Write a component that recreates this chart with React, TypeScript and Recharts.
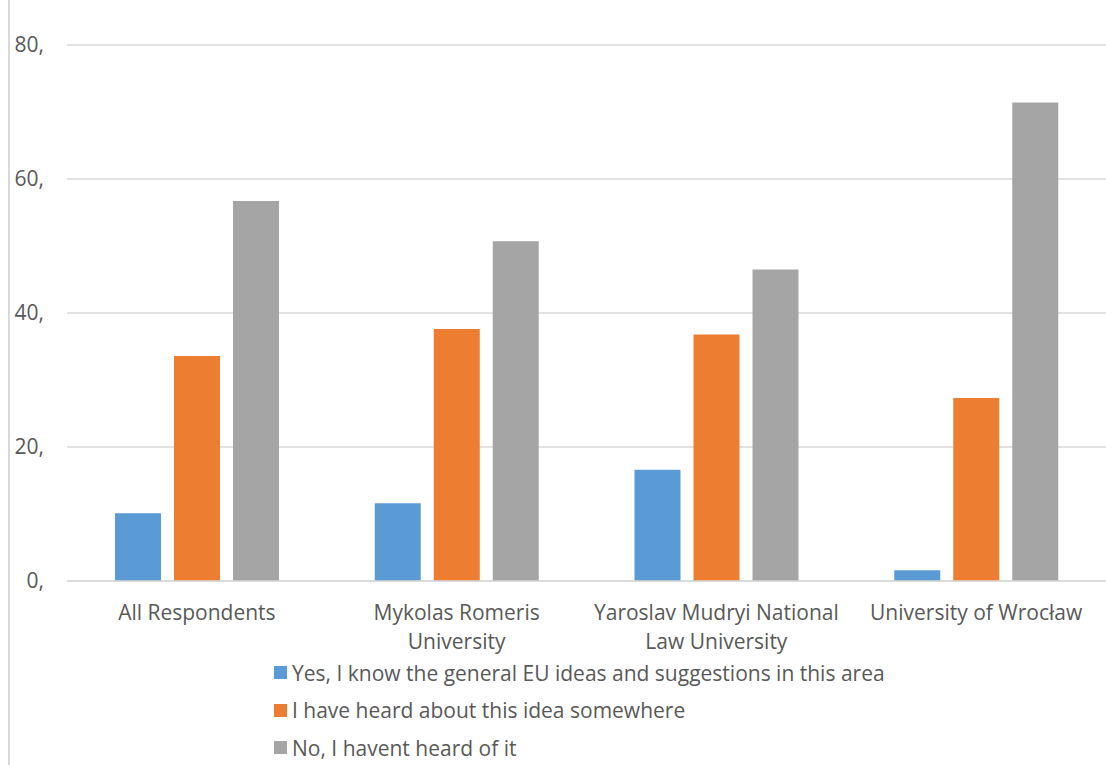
import { BarChart, Bar, XAxis, YAxis, CartesianGrid, Legend } from "recharts";

const categories = [
  "All Respondents",
  "Mykolas Romeris University",
  "Yaroslav Mudryi National Law University",
  "University of Wrocław",
];
const categoryLines = [
  ["All Respondents"],
  ["Mykolas Romeris", "University"],
  ["Yaroslav Mudryi National", "Law University"],
  ["University of Wrocław"],
];
const yesValues = [10.1, 11.6, 16.6, 1.6];
const heardValues = [33.6, 37.6, 36.8, 27.3];
const noValues = [56.7, 50.7, 46.5, 71.4];
const yTicks = [0, 20, 40, 60, 80];

const seriesNames = [
  "Yes, I know the general EU ideas and suggestions in this area",
  "I have heard about this idea somewhere",
  "No, I havent heard of it",
];
const colors = ["#5B9BD5", "#ED7D31", "#A5A5A5"];

const data = categories.map((c, i) => ({
  name: c,
  yes: yesValues[i],
  heard: heardValues[i],
  no: noValues[i],
}));

const FONT = "'Open Sans', Lato, sans-serif";
const TEXT = "#595959";
const FS = 21;

function CategoryTick(props: any) {
  const { x, y, payload, index } = props;
  const lines = categoryLines[index] || [payload.value];
  return (
    <text x={x} y={y + 31} textAnchor="middle" fill={TEXT} fontSize={FS} fontFamily={FONT}>
      {lines.map((l: string, i: number) => (
        <tspan key={i} x={x} dy={i === 0 ? 0 : 29}>
          {l}
        </tspan>
      ))}
    </text>
  );
}

function ValueTick(props: any) {
  const { y, payload } = props;
  return (
    <text x={44} y={y + 7} textAnchor="end" fill={TEXT} fontSize={FS} fontFamily={FONT}>
      {`${payload.value},`}
    </text>
  );
}

function LegendBox() {
  return (
    <div style={{ height: 111, fontFamily: FONT, fontSize: FS, color: TEXT }}>
      {seriesNames.map((n, i) => (
        <div key={n} style={{ display: "flex", alignItems: "center", height: 37.5, whiteSpace: "nowrap" }}>
          <span
            style={{
              width: 13,
              height: 13,
              background: colors[i],
              display: "inline-block",
              marginRight: 5,
            }}
          />
          {n}
        </div>
      ))}
    </div>
  );
}

export default function App() {
  return (
    <div
      style={{
        position: "absolute",
        left: 0,
        top: 0,
        width: 1106,
        height: 765,
        background: "#fff",
      }}
    >
      <div
        style={{
          position: "absolute",
          left: 8,
          top: 0,
          width: 2,
          height: 765,
          background: "#d9d9d9",
        }}
      />
      <BarChart
        width={1106}
        height={765}
        data={data}
        margin={{ top: 45, right: 0, bottom: 0, left: 2 }}
        barGap={13}
        barSize={46}
      >
        <CartesianGrid vertical={false} stroke="#d9d9d9" strokeWidth={1.5} />
        <XAxis
          dataKey="name"
          height={73}
          tickLine={false}
          axisLine={{ stroke: "#d9d9d9", strokeWidth: 1.5 }}
          tick={<CategoryTick />}
          interval={0}
        />
        <YAxis
          width={65}
          domain={[0, 80]}
          ticks={yTicks}
          axisLine={false}
          tickLine={false}
          tick={<ValueTick />}
        />
        <Legend
          verticalAlign="bottom"
          align="left"
          content={<LegendBox />}
          wrapperStyle={{ left: 274, width: 800 }}
        />
        <Bar dataKey="yes" name={seriesNames[0]} fill={colors[0]} isAnimationActive={false} />
        <Bar dataKey="heard" name={seriesNames[1]} fill={colors[1]} isAnimationActive={false} />
        <Bar dataKey="no" name={seriesNames[2]} fill={colors[2]} isAnimationActive={false} />
      </BarChart>
    </div>
  );
}
